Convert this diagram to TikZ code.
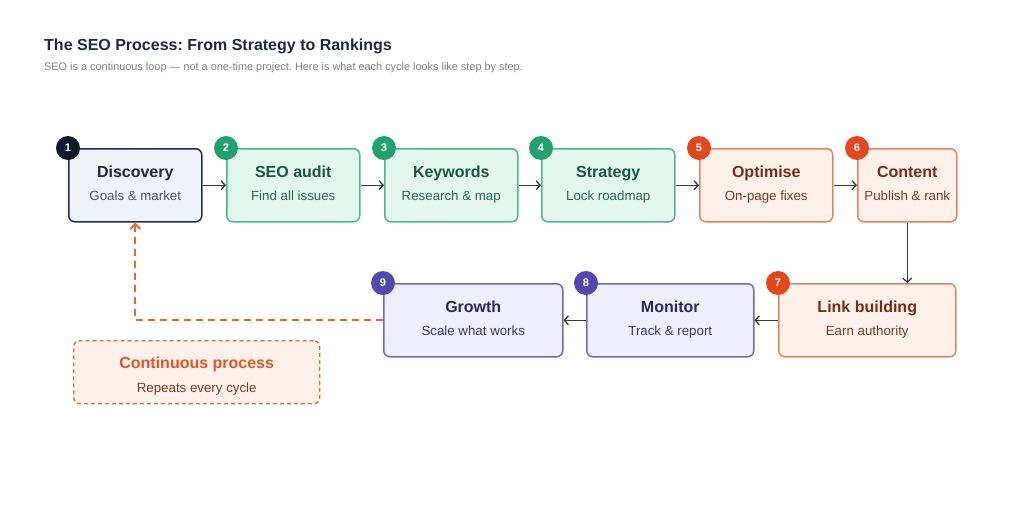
\documentclass[tikz,border=0pt]{standalone}
\usepackage{fontspec}
\setmainfont{Liberation Sans}
\frenchspacing
\usetikzlibrary{arrows.meta,calc}
\definecolor{darkline}{HTML}{27303F}
\definecolor{darkfill}{HTML}{EEF2F6}
\definecolor{darkdot}{HTML}{0F1B2D}
\definecolor{darkhead}{HTML}{1E293B}
\definecolor{darktext}{HTML}{4A5565}
\definecolor{greenline}{HTML}{4DB68E}
\definecolor{greenfill}{HTML}{E3F6EE}
\definecolor{greendot}{HTML}{23A070}
\definecolor{greenhead}{HTML}{17573D}
\definecolor{greentext}{HTML}{2A6650}
\definecolor{orangeline}{HTML}{E28460}
\definecolor{orangefill}{HTML}{FEF1EA}
\definecolor{orangedot}{HTML}{E2471D}
\definecolor{orangehead}{HTML}{7A2A14}
\definecolor{orangetext}{HTML}{7A3A26}
\definecolor{purpleline}{HTML}{6F68C2}
\definecolor{purplefill}{HTML}{EEEEFC}
\definecolor{purpledot}{HTML}{5447B2}
\definecolor{purplehead}{HTML}{2C2865}
\definecolor{purpletext}{HTML}{3C3970}
\definecolor{loopline}{HTML}{E06A3C}
\definecolor{loophead}{HTML}{E0562A}
\definecolor{arrowgray}{HTML}{333A44}
\tikzset{
  stepbox/.style={draw=#1line,fill=#1fill,rounded corners=6pt,line width=1.5pt,
    minimum height=73pt,inner sep=0pt,anchor=north west},
  badge/.style={circle,fill=#1dot,text=white,minimum size=24pt,inner sep=0pt,
    font=\fontsize{11}{11}\selectfont\bfseries},
  steptitle/.style={anchor=base,text=#1head,font=\fontsize{16}{18}\selectfont\bfseries},
  stepsub/.style={anchor=base,text=#1text,font=\fontsize{13.3}{16}\selectfont},
  flow/.style={-{Straight Barb[length=4pt,width=9pt]},draw=arrowgray,line width=1.3pt},
}
\begin{document}
\begin{tikzpicture}[x=1pt,y=-1pt]
\useasboundingbox[fill=white](0,0)rectangle(1024,509);
%heading
\node[anchor=base west,inner sep=0pt,text=darkhead,font=\fontsize{16}{18}\selectfont\bfseries](title)at(44,50){The SEO Process: From Strategy to Rankings};
\node[anchor=base west,inner sep=0pt,text=black!50,font=\fontsize{10.9}{13}\selectfont](subtitle)at(44,70){SEO is a continuous loop — not a one-time project. Here is what each cycle looks like step by step.};
%steps
\foreach \n/\x/\y/\w/\c/\t/\s in {
1/68/148/133/dark/Discovery/Goals \& market,
2/226/148/133/green/SEO audit/Find all issues,
3/384/148/133/green/Keywords/Research \& map,
4/541/148/133/green/Strategy/Lock roadmap,
5/699/148/133/orange/Optimise/On-page fixes,
6/857/148/99/orange/Content/Publish \& rank,
7/778/283/177/orange/Link building/Earn authority,
8/586/283/167/purple/Monitor/Track \& report,
9/383/283/179/purple/Growth/Scale what works}{
\node[stepbox=\c,minimum width=\w pt](s\n)at(\x,\y){};
\node[badge=\c](b\n)at(s\n.north west){\n};
\node[steptitle=\c](t\n)at($(s\n.north)+(0,29)$){\t};
\node[stepsub=\c](d\n)at($(s\n.north)+(0,52)$){\s};
}
%arrows
\foreach \a/\b in {s1/s2,s2/s3,s3/s4,s4/s5,s5/s6}{
\draw[flow](\a.east)--(\b.west);
}
\foreach \a/\b in {s7/s8,s8/s9}{
\draw[flow](\a.west)--(\b.east);
}
\draw[flow](s6.south)--(s6.south|-s7.north);
%loop back
\draw[-{Straight Barb[length=5pt,width=10pt]},draw=loopline,line width=2pt,dash pattern=on 7pt off 5pt](s9.west)-|(s1.south);
\node[draw=loopline,fill=orangefill,rounded corners=6pt,line width=1.4pt,dash pattern=on 4pt off 3pt,
  minimum width=246pt,minimum height=63pt,anchor=north west](note)at(73,340){};
\node[anchor=base,text=loophead,font=\fontsize{16}{18}\selectfont\bfseries](notet)at($(note.north)+(0,28)$){Continuous process};
\node[anchor=base,text=orangetext,font=\fontsize{13.3}{16}\selectfont](noted)at($(note.north)+(0,52)$){Repeats every cycle};
\end{tikzpicture}
\end{document}
